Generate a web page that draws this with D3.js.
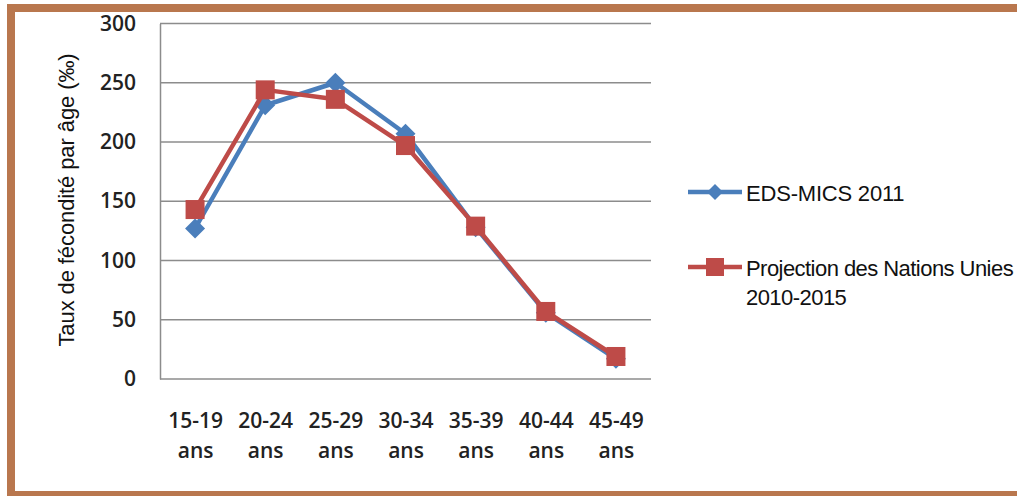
<!DOCTYPE html>
<html>
<head>
<meta charset="utf-8">
<script src="https://cdn.jsdelivr.net/npm/d3@7"></script>
<style>
  html, body { margin: 0; padding: 0; background: #fff; overflow: hidden; }
  svg { display: block; }
</style>
</head>
<body>
<svg id="chart" width="1017" height="496"></svg>
<script>
// Age groups (two-line labels)
const ageGroups = ["15-19 ans", "20-24 ans", "25-29 ans", "30-34 ans", "35-39 ans", "40-44 ans", "45-49 ans"];
// Age-specific fertility rates (per thousand)
const edsMics2011 = [127, 231, 250, 207, 128, 56, 17];
const projectionNU = [143, 244, 236, 197, 129, 57, 19];
const yTicks = [0, 50, 100, 150, 200, 250, 300];
const seriesNames = ["EDS-MICS 2011", "Projection des Nations Unies", "2010-2015"];

const svg = d3.select("#chart");
const W = 1017, H = 496;
const frameColor = "#b9774e";
const gridColor = "#8c8c8c";
const blue = "#4a7ebb";
const red = "#be4b48";

const plot = { left: 160, right: 651, top: 23.5, bottom: 379 };

const x = d3.scalePoint().domain(ageGroups).range([plot.left, plot.right]).padding(0.5);
const y = d3.scaleLinear().domain([0, 300]).range([plot.bottom, plot.top]);

// Frame
svg.append("rect").attr("x", 7).attr("y", 4).attr("width", W - 7).attr("height", 8).attr("fill", frameColor);
svg.append("rect").attr("x", 7).attr("y", 4).attr("width", 8).attr("height", H - 4).attr("fill", frameColor);
svg.append("rect").attr("x", 7).attr("y", 491).attr("width", W - 7).attr("height", 5).attr("fill", frameColor);

// Horizontal gridlines
svg.append("g").selectAll("line").data(yTicks.filter(d => d > 0)).join("line")
  .attr("x1", plot.left).attr("x2", plot.right)
  .attr("y1", d => y(d)).attr("y2", d => y(d))
  .attr("stroke", gridColor).attr("stroke-width", 1.5);

// Y axis
const yAxis = svg.append("g").attr("transform", `translate(${plot.left},0)`)
  .call(d3.axisLeft(y).tickValues(yTicks).tickSize(0).tickPadding(24));
yAxis.select(".domain").attr("stroke", gridColor).attr("stroke-width", 1.5);
yAxis.selectAll("text")
  .attr("font-family", "'Open Sans', sans-serif").attr("font-size", 21).attr("font-weight", 600)
  .attr("fill", "#222");

// X axis
const xAxis = svg.append("g").attr("transform", `translate(0,${plot.bottom})`)
  .call(d3.axisBottom(x).tickSize(0).tickFormat(""));
xAxis.select(".domain").attr("d", `M${plot.left},0H${plot.right}`)
  .attr("stroke", gridColor).attr("stroke-width", 1.5);
xAxis.selectAll(".tick").each(function(d) {
  const parts = d.split(" ");
  const t = d3.select(this).append("text")
    .attr("text-anchor", "middle")
    .attr("font-family", "'Open Sans', sans-serif").attr("font-size", 21).attr("font-weight", 600)
    .attr("fill", "#222");
  t.append("tspan").attr("x", 0).attr("y", 49).text(parts[0]);
  t.append("tspan").attr("x", 0).attr("y", 79).text(parts[1]);
});

// Y axis title
svg.append("text")
  .attr("transform", "translate(74,200) rotate(-90)")
  .attr("text-anchor", "middle")
  .attr("font-family", "'Liberation Sans', Arial, sans-serif").attr("font-size", 22)
  .attr("letter-spacing", -0.1)
  .attr("fill", "#111")
  .text("Taux de fécondité par âge (‰)");

const line = d3.line().x((d, i) => x(ageGroups[i])).y(d => y(d));
const diamond = s => `M0,${-s}L${s},0L0,${s}L${-s},0Z`;

// Series 1: diamonds
svg.append("path").datum(edsMics2011).attr("d", line)
  .attr("fill", "none").attr("stroke", blue).attr("stroke-width", 4.5).attr("stroke-linejoin", "round");
svg.append("g").selectAll("path").data(edsMics2011).join("path")
  .attr("transform", (d, i) => `translate(${x(ageGroups[i])},${y(d)})`)
  .attr("d", diamond(10)).attr("fill", blue);

// Series 2: squares
svg.append("path").datum(projectionNU).attr("d", line)
  .attr("fill", "none").attr("stroke", red).attr("stroke-width", 4.5).attr("stroke-linejoin", "round");
svg.append("g").selectAll("rect").data(projectionNU).join("rect")
  .attr("x", (d, i) => x(ageGroups[i]) - 9.5).attr("y", d => y(d) - 9.5)
  .attr("width", 19).attr("height", 19).attr("fill", red);

// Legend
const lg = svg.append("g");
const legendFont = { family: "'Liberation Sans', Arial, sans-serif", size: 22 };
lg.append("line").attr("x1", 688).attr("x2", 742).attr("y1", 192).attr("y2", 192)
  .attr("stroke", blue).attr("stroke-width", 4.5);
lg.append("path").attr("transform", "translate(715,192)").attr("d", diamond(8)).attr("fill", blue);
lg.append("text").attr("x", 746).attr("y", 201)
  .attr("font-family", legendFont.family).attr("font-size", legendFont.size)
  .attr("letter-spacing", -0.2).attr("fill", "#111").text(seriesNames[0]);

lg.append("line").attr("x1", 688).attr("x2", 742).attr("y1", 267).attr("y2", 267)
  .attr("stroke", red).attr("stroke-width", 4.5);
lg.append("rect").attr("x", 706).attr("y", 258).attr("width", 18).attr("height", 18).attr("fill", red);
const lt = lg.append("text")
  .attr("font-family", legendFont.family).attr("font-size", legendFont.size)
  .attr("letter-spacing", -0.55).attr("fill", "#111");
lt.append("tspan").attr("x", 746).attr("y", 276).text(seriesNames[1]);
lt.append("tspan").attr("x", 746).attr("y", 305).text(seriesNames[2]);
</script>
</body>
</html>
